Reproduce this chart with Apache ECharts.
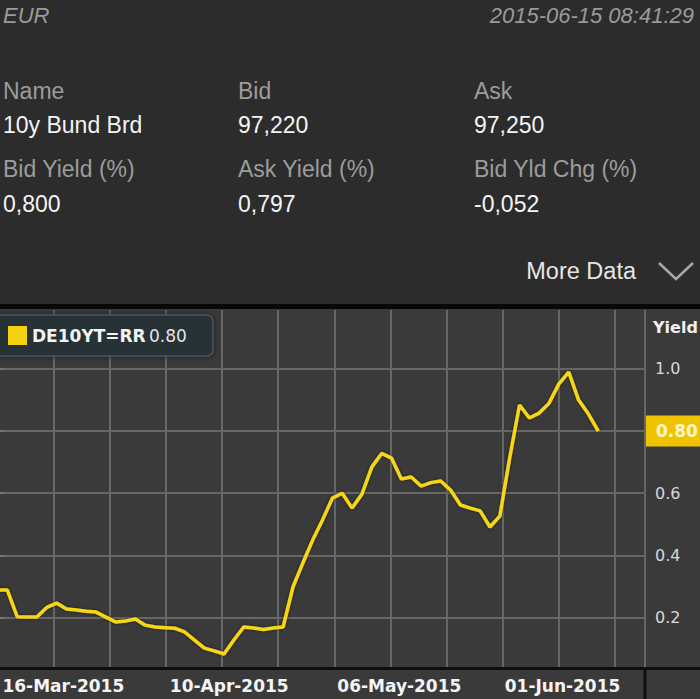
<!DOCTYPE html>
<html>
<head>
<meta charset="utf-8">
<script src="https://cdn.jsdelivr.net/npm/echarts@6/dist/echarts.min.js"></script>
<style>
html,body{margin:0;padding:0;background:#2c2c2c;overflow:hidden;}
#c{width:700px;height:699px;}
</style>
</head>
<body>
<div id="c"></div>
<script>
// ---- data ----
const dates = [
  "13-Mar-2015","16-Mar-2015","17-Mar-2015","18-Mar-2015","19-Mar-2015","20-Mar-2015",
  "23-Mar-2015","24-Mar-2015","25-Mar-2015","26-Mar-2015","27-Mar-2015",
  "30-Mar-2015","31-Mar-2015","01-Apr-2015","02-Apr-2015",
  "07-Apr-2015","08-Apr-2015","09-Apr-2015","10-Apr-2015",
  "13-Apr-2015","14-Apr-2015","15-Apr-2015","16-Apr-2015","17-Apr-2015",
  "20-Apr-2015","21-Apr-2015","22-Apr-2015","23-Apr-2015","24-Apr-2015",
  "27-Apr-2015","28-Apr-2015","29-Apr-2015","30-Apr-2015",
  "04-May-2015","05-May-2015","06-May-2015","07-May-2015","08-May-2015",
  "11-May-2015","12-May-2015","13-May-2015","14-May-2015","15-May-2015",
  "18-May-2015","19-May-2015","20-May-2015","21-May-2015","22-May-2015",
  "26-May-2015","27-May-2015","28-May-2015","29-May-2015",
  "01-Jun-2015","02-Jun-2015","03-Jun-2015","04-Jun-2015","05-Jun-2015",
  "08-Jun-2015","09-Jun-2015","10-Jun-2015","11-Jun-2015","12-Jun-2015"
];
const yields = [
  0.288,0.288,0.202,0.201,0.201,0.232,
  0.246,0.227,0.224,0.220,0.217,
  0.201,0.185,0.188,0.195,
  0.175,0.169,0.167,0.165,
  0.153,0.127,0.101,0.092,0.082,
  0.127,0.169,0.166,0.161,0.166,
  0.169,0.298,0.375,0.449,
  0.514,0.584,0.600,0.552,0.597,
  0.684,0.728,0.713,0.646,0.652,
  0.623,0.634,0.639,0.610,0.562,
  0.552,0.543,0.491,0.526,
  0.713,0.884,0.842,0.858,0.890,
  0.952,0.990,0.900,0.855,0.800
];
const seriesName = "DE10YT=RR";
const xTickLabels = ["16-Mar-2015","10-Apr-2015","06-May-2015","01-Jun-2015"];
const yTickValues = [0.2, 0.4, 0.6, 0.8, 1.0];
const yAxisTitle = "Yield";
const currency = "EUR";
const timestamp = "2015-06-15 08:41:29";
const headerLabels = ["Name","Bid","Ask","Bid Yield (%)","Ask Yield (%)","Bid Yld Chg (%)"];
const headerValues = ["10y Bund Brd","97,220","97,250","0,800","0,797","-0,052"];
const moreDataText = "More Data";

// ---- build ----
const lastVal = yields[yields.length - 1];
const tickIdx = xTickLabels.map(l => dates.indexOf(l));
const lineData = yields.map((v, i) => [i, v]);
// the last-value badge covers the tick label it sits on
const yLabelValues = yTickValues.filter(v => Math.abs(v - lastVal) > 0.05);

const colX = [3, 238, 474];
const labelRowY = [91, 169];
const valueRowY = [125, 204];
const hdrFont = '23px "Liberation Sans", Arial, sans-serif';

const graphics = [];
graphics.push({type:'rect', z:-10, silent:true, shape:{x:0,y:308,width:700,height:391}, style:{fill:'#3a3a3a'}});
graphics.push({type:'rect', z:-9, silent:true, shape:{x:0,y:304,width:700,height:5}, style:{fill:'#080808'}});
graphics.push({type:'line', z:50, silent:true, shape:{x1:0,y1:668.5,x2:700,y2:668.5}, style:{stroke:'#0e0e0e', lineWidth:3}});
graphics.push({type:'line', z:50, silent:true, shape:{x1:645,y1:668,x2:645,y2:699}, style:{stroke:'#0e0e0e', lineWidth:3}});
graphics.push({type:'polyline', silent:true, shape:{points:[[659,263],[676,279],[693,263]]}, style:{stroke:'#a8a8a8', lineWidth:2.5, fill:null}});
graphics.push({type:'text', silent:true, style:{text:currency, x:3, y:15, textAlign:'left', textVerticalAlign:'middle', font:'italic 22px "Liberation Sans", Arial, sans-serif', fill:'#9a9a9a'}});
graphics.push({type:'text', silent:true, style:{text:timestamp, x:694, y:15, textAlign:'right', textVerticalAlign:'middle', font:'italic 22px "Liberation Sans", Arial, sans-serif', fill:'#9a9a9a'}});
headerLabels.forEach((t, i) => {
  graphics.push({type:'text', silent:true, style:{text:t, x:colX[i%3], y:labelRowY[Math.floor(i/3)], textAlign:'left', textVerticalAlign:'middle', font:hdrFont, fill:'#9c9c9c'}});
});
headerValues.forEach((t, i) => {
  graphics.push({type:'text', silent:true, style:{text:t, x:colX[i%3], y:valueRowY[Math.floor(i/3)], textAlign:'left', textVerticalAlign:'middle', font:hdrFont, fill:'#f4f4f4'}});
});
graphics.push({type:'text', silent:true, style:{text:moreDataText, x:636, y:271, textAlign:'right', textVerticalAlign:'middle', font:'23.5px "Liberation Sans", Arial, sans-serif', fill:'#e6e6e6'}});
graphics.push({type:'text', silent:true, z:60, style:{text:yAxisTitle, x:653, y:327, textAlign:'left', textVerticalAlign:'middle', font:'bold 16px "DejaVu Sans", sans-serif', fill:'#f2f2f2'}});

const chart = echarts.init(document.getElementById('c'), null, {renderer:'svg'});
chart.setOption({
  animation: false,
  backgroundColor: '#2c2c2c',
  grid: {left: -2.5, right: 55, top: 310, bottom: 31, show: false, outerBoundsMode: 'none', containLabel: false},
  graphic: {elements: graphics},
  legend: {
    left: -8, top: 315, orient: 'horizontal',
    padding: [11, 26, 11, 16],
    backgroundColor: '#283034', borderColor: '#4b5559', borderWidth: 1.5, borderRadius: 6,
    shadowBlur: 6, shadowColor: 'rgba(0,0,0,0.5)',
    itemWidth: 19, itemHeight: 19, icon: 'rect', selectedMode: false,
    data: [{name: seriesName, icon: 'rect', itemStyle: {color: '#f5d20f'}}],
    formatter: name => '{n|' + name + '} {v|' + lastVal.toFixed(2) + '}',
    textStyle: {
      color: '#f2f2f2',
      rich: {
        n: {fontFamily: 'DejaVu Sans', fontWeight: 'bold', fontSize: 17, color: '#f2f2f2'},
        v: {fontFamily: 'DejaVu Sans', fontSize: 17, color: '#e4e4e4'}
      }
    }
  },
  xAxis: {
    type: 'value', min: 0, max: 65.74, interval: 5.699,
    axisLine: {show: false}, axisTick: {show: false},
    splitLine: {show: true, lineStyle: {color: '#676767', width: 2}},
    axisLabel: {
      customValues: tickIdx.map(i => i - 0.5),
      formatter: v => dates[Math.round(v + 0.5)] || '',
      align: 'left', margin: 9,
      color: '#f4f4f4', fontFamily: 'DejaVu Sans', fontWeight: 'bold', fontSize: 17
    }
  },
  yAxis: {
    type: 'value', position: 'right', min: 0.037, max: 1.19,
    axisLine: {show: true, lineStyle: {color: '#262626', width: 2}},
    axisTick: {show: true, inside: false, length: 7, customValues: yTickValues, lineStyle: {color: '#7a7a7a', width: 1.5}},
    axisLabel: {customValues: yLabelValues, formatter: v => v.toFixed(1), margin: 10, color: '#d8d8d8', fontFamily: 'DejaVu Sans', fontSize: 16},
    splitLine: {show: true, lineStyle: {color: '#676767', width: 2}}
  },
  series: [{
    name: seriesName, type: 'line', data: lineData,
    showSymbol: false, symbol: 'none', z: 3,
    lineStyle: {color: '#f7d619', width: 3.5, shadowColor: 'rgba(0,0,0,0.6)', shadowBlur: 3},
    itemStyle: {color: '#f7d619'},
    markLine: {
      silent: true, symbol: 'none', animation: false,
      lineStyle: {color: 'rgba(0,0,0,0)', width: 1, type: 'solid'},
      data: [{yAxis: lastVal}],
      label: {
        show: true, position: 'end', distance: 1,
        formatter: p => Number(p.value).toFixed(2),
        backgroundColor: '#f0c300', color: '#fff6cf',
        fontFamily: 'DejaVu Sans', fontWeight: 'bold', fontSize: 17, lineHeight: 17,
        padding: [7, 20, 7, 10]
      }
    }
  }]
});
</script>
</body>
</html>
